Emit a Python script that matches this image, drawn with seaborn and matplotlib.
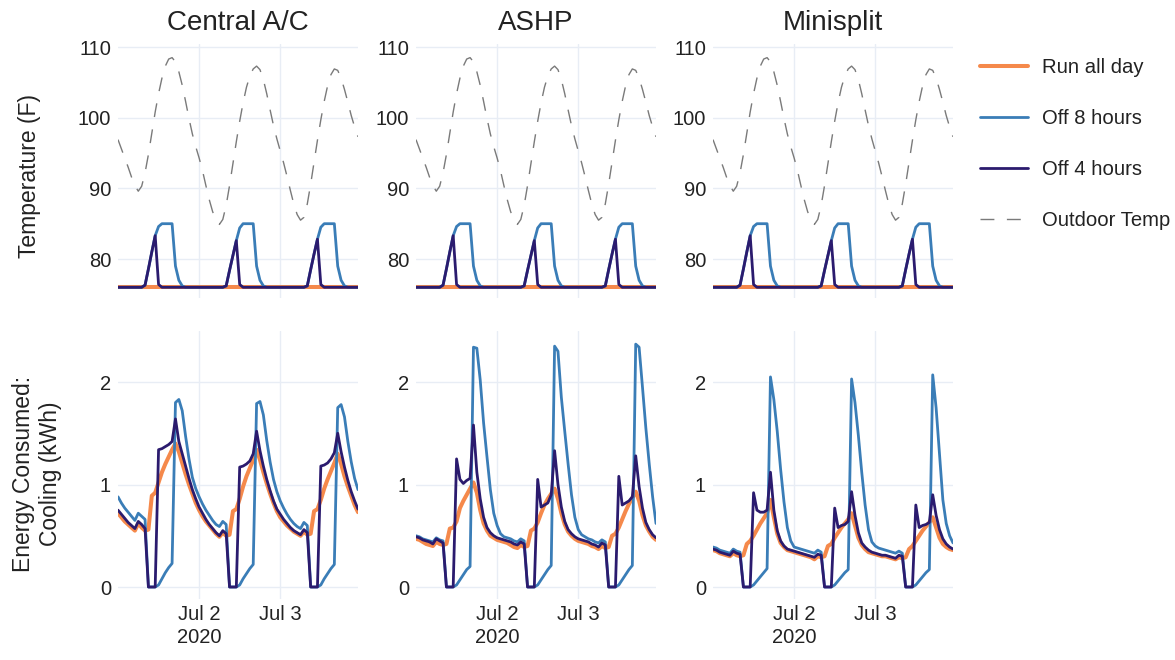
import matplotlib
matplotlib.use("Agg")
import matplotlib.pyplot as plt
import seaborn as sns
import pandas as pd

# hourly timestamps, Jul 1 00:00 .. Jul 3 23:00
hours = pd.date_range("2020-07-01 00:00", periods=72, freq="h")

systems = ["Central A/C", "ASHP", "Minisplit"]
series_names = ["Run all day", "Off 8 hours", "Off 4 hours"]

outdoor_temp = [
    96.9, 95.6, 94.3, 93.0, 91.6, 90.4, 89.6, 90.3, 92.2, 94.8, 97.8, 100.8,
    103.4, 105.6, 107.3, 108.3, 108.5, 107.9, 106.5, 104.6, 102.3, 99.9, 97.7, 95.9,
    94.3, 92.5, 90.4, 88.4, 86.7, 85.5, 84.9, 85.6, 87.6, 90.4, 93.5, 96.6,
    99.5, 102.1, 104.3, 105.9, 106.9, 107.3, 106.8, 105.4, 103.4, 101.1, 98.9, 97.0,
    95.3, 93.6, 91.7, 89.7, 87.8, 86.3, 85.5, 85.9, 87.8, 90.6, 93.7, 96.8,
    99.7, 102.3, 104.5, 106.1, 106.9, 106.7, 105.6, 104.0, 102.2, 100.3, 98.7, 97.3,
]

temp_run_all_day = [
    76.0, 76.0, 76.0, 76.0, 76.0, 76.0, 76.0, 76.0, 76.0, 76.0, 76.0, 76.0,
    76.0, 76.0, 76.0, 76.0, 76.0, 76.0, 76.0, 76.0, 76.0, 76.0, 76.0, 76.0,
    76.0, 76.0, 76.0, 76.0, 76.0, 76.0, 76.0, 76.0, 76.0, 76.0, 76.0, 76.0,
    76.0, 76.0, 76.0, 76.0, 76.0, 76.0, 76.0, 76.0, 76.0, 76.0, 76.0, 76.0,
    76.0, 76.0, 76.0, 76.0, 76.0, 76.0, 76.0, 76.0, 76.0, 76.0, 76.0, 76.0,
    76.0, 76.0, 76.0, 76.0, 76.0, 76.0, 76.0, 76.0, 76.0, 76.0, 76.0, 76.0,
]

temp_off8 = [
    76.0, 76.0, 76.0, 76.0, 76.0, 76.0, 76.0, 76.0, 76.3, 78.6, 81.0, 83.3,
    84.6, 85.0, 85.0, 85.0, 85.0, 79.0, 77.0, 76.2, 76.0, 76.0, 76.0, 76.0,
    76.0, 76.0, 76.0, 76.0, 76.0, 76.0, 76.0, 76.0, 76.2, 78.4, 80.5, 82.6,
    84.4, 85.0, 85.0, 85.0, 85.0, 79.0, 77.0, 76.2, 76.0, 76.0, 76.0, 76.0,
    76.0, 76.0, 76.0, 76.0, 76.0, 76.0, 76.0, 76.0, 76.2, 78.5, 80.7, 82.8,
    84.5, 85.0, 85.0, 85.0, 85.0, 79.0, 77.0, 76.2, 76.0, 76.0, 76.0, 76.0,
]

temp_off4 = [
    76.0, 76.0, 76.0, 76.0, 76.0, 76.0, 76.0, 76.0, 76.3, 78.6, 81.0, 83.3,
    76.4, 76.0, 76.0, 76.0, 76.0, 76.0, 76.0, 76.0, 76.0, 76.0, 76.0, 76.0,
    76.0, 76.0, 76.0, 76.0, 76.0, 76.0, 76.0, 76.0, 76.2, 78.4, 80.5, 82.6,
    76.4, 76.0, 76.0, 76.0, 76.0, 76.0, 76.0, 76.0, 76.0, 76.0, 76.0, 76.0,
    76.0, 76.0, 76.0, 76.0, 76.0, 76.0, 76.0, 76.0, 76.2, 78.5, 80.7, 82.8,
    76.4, 76.0, 76.0, 76.0, 76.0, 76.0, 76.0, 76.0, 76.0, 76.0, 76.0, 76.0,
]

# cooling energy (kWh), Central A/C
ca_run = [
    0.72, 0.68, 0.64, 0.61, 0.58, 0.55, 0.62, 0.58, 0.55, 0.56, 0.89, 0.92,
    1.02, 1.12, 1.20, 1.27, 1.34, 1.40, 1.32, 1.21, 1.10, 1.00, 0.91, 0.82,
    0.75, 0.69, 0.64, 0.60, 0.56, 0.52, 0.49, 0.53, 0.50, 0.51, 0.74, 0.76,
    0.86, 0.98, 1.08, 1.16, 1.24, 1.34, 1.24, 1.12, 1.01, 0.91, 0.82, 0.74,
    0.68, 0.64, 0.60, 0.57, 0.54, 0.52, 0.50, 0.54, 0.51, 0.52, 0.74, 0.76,
    0.85, 0.96, 1.05, 1.13, 1.21, 1.30, 1.20, 1.08, 0.98, 0.89, 0.80, 0.73,
]
ca_off8 = [
    0.88, 0.82, 0.77, 0.73, 0.69, 0.65, 0.72, 0.69, 0.66, 0.00, 0.00, 0.00,
    0.02, 0.08, 0.14, 0.19, 0.23, 1.80, 1.83, 1.72, 1.47, 1.25, 1.07, 0.96,
    0.88, 0.81, 0.75, 0.70, 0.65, 0.61, 0.59, 0.64, 0.61, 0.00, 0.00, 0.00,
    0.02, 0.08, 0.13, 0.18, 0.22, 1.79, 1.81, 1.68, 1.43, 1.22, 1.05, 0.93,
    0.84, 0.77, 0.71, 0.66, 0.62, 0.59, 0.57, 0.63, 0.60, 0.00, 0.00, 0.00,
    0.02, 0.08, 0.13, 0.18, 0.22, 1.75, 1.78, 1.66, 1.42, 1.22, 1.06, 0.95,
]
ca_off4 = [
    0.75, 0.71, 0.67, 0.63, 0.60, 0.57, 0.64, 0.61, 0.57, 0.00, 0.00, 0.00,
    1.34, 1.35, 1.37, 1.39, 1.42, 1.64, 1.42, 1.30, 1.18, 1.06, 0.95, 0.86,
    0.78, 0.72, 0.66, 0.61, 0.57, 0.53, 0.50, 0.55, 0.52, 0.00, 0.00, 0.00,
    1.17, 1.18, 1.20, 1.23, 1.30, 1.52, 1.33, 1.18, 1.05, 0.94, 0.84, 0.76,
    0.71, 0.66, 0.62, 0.58, 0.55, 0.53, 0.51, 0.56, 0.53, 0.00, 0.00, 0.00,
    1.18, 1.19, 1.21, 1.25, 1.31, 1.50, 1.32, 1.17, 1.04, 0.93, 0.84, 0.76,
]

# ASHP
ashp_run = [
    0.47, 0.46, 0.44, 0.42, 0.41, 0.40, 0.44, 0.42, 0.41, 0.42, 0.57, 0.58,
    0.64, 0.77, 0.84, 0.90, 0.96, 1.02, 0.92, 0.75, 0.62, 0.55, 0.50, 0.48,
    0.46, 0.45, 0.44, 0.43, 0.41, 0.39, 0.38, 0.41, 0.39, 0.40, 0.55, 0.57,
    0.63, 0.72, 0.80, 0.86, 0.91, 0.96, 0.86, 0.72, 0.61, 0.54, 0.50, 0.47,
    0.45, 0.44, 0.43, 0.42, 0.40, 0.39, 0.37, 0.40, 0.38, 0.39, 0.50, 0.52,
    0.58, 0.66, 0.74, 0.81, 0.87, 0.93, 0.84, 0.70, 0.60, 0.54, 0.49, 0.46,
]
ashp_off8 = [
    0.50, 0.49, 0.47, 0.46, 0.45, 0.44, 0.48, 0.46, 0.45, 0.00, 0.00, 0.00,
    0.02, 0.07, 0.12, 0.17, 0.20, 2.34, 2.33, 2.02, 1.60, 1.27, 0.95, 0.72,
    0.60, 0.52, 0.49, 0.48, 0.47, 0.45, 0.44, 0.47, 0.45, 0.00, 0.00, 0.00,
    0.02, 0.07, 0.12, 0.17, 0.21, 2.35, 2.30, 1.85, 1.52, 1.20, 0.90, 0.68,
    0.56, 0.51, 0.49, 0.47, 0.46, 0.44, 0.43, 0.46, 0.44, 0.00, 0.00, 0.00,
    0.02, 0.07, 0.12, 0.17, 0.21, 2.37, 2.34, 1.95, 1.55, 1.20, 0.88, 0.62,
]
ashp_off4 = [
    0.49, 0.48, 0.46, 0.45, 0.44, 0.42, 0.47, 0.45, 0.43, 0.00, 0.00, 0.00,
    1.25, 1.05, 1.01, 1.04, 1.06, 1.58, 1.12, 0.86, 0.68, 0.58, 0.53, 0.50,
    0.48, 0.47, 0.46, 0.45, 0.44, 0.42, 0.41, 0.44, 0.42, 0.00, 0.00, 0.00,
    1.05, 0.78, 0.80, 0.82, 0.90, 1.33, 1.00, 0.78, 0.64, 0.56, 0.52, 0.49,
    0.47, 0.46, 0.45, 0.44, 0.42, 0.41, 0.39, 0.43, 0.41, 0.00, 0.00, 0.00,
    1.08, 0.80, 0.82, 0.84, 0.88, 1.28, 0.98, 0.77, 0.63, 0.56, 0.51, 0.48,
]

# Minisplit
mini_run = [
    0.36, 0.35, 0.33, 0.32, 0.31, 0.30, 0.33, 0.31, 0.30, 0.31, 0.42, 0.45,
    0.50, 0.56, 0.62, 0.67, 0.72, 0.85, 0.68, 0.52, 0.43, 0.39, 0.36, 0.35,
    0.34, 0.33, 0.32, 0.31, 0.30, 0.29, 0.27, 0.30, 0.29, 0.30, 0.40, 0.42,
    0.48, 0.53, 0.58, 0.62, 0.66, 0.72, 0.60, 0.48, 0.41, 0.37, 0.34, 0.33,
    0.32, 0.31, 0.30, 0.30, 0.29, 0.28, 0.27, 0.29, 0.28, 0.29, 0.37, 0.40,
    0.45, 0.50, 0.55, 0.59, 0.63, 0.68, 0.58, 0.48, 0.42, 0.39, 0.37, 0.36,
]
mini_off8 = [
    0.39, 0.38, 0.36, 0.35, 0.34, 0.33, 0.37, 0.35, 0.34, 0.00, 0.00, 0.00,
    0.02, 0.06, 0.10, 0.14, 0.18, 2.05, 1.83, 1.52, 1.15, 0.83, 0.58, 0.45,
    0.39, 0.38, 0.37, 0.36, 0.35, 0.34, 0.33, 0.36, 0.34, 0.00, 0.00, 0.00,
    0.02, 0.06, 0.10, 0.14, 0.17, 2.03, 1.80, 1.48, 1.12, 0.80, 0.56, 0.44,
    0.40, 0.38, 0.37, 0.36, 0.35, 0.34, 0.33, 0.35, 0.33, 0.00, 0.00, 0.00,
    0.02, 0.06, 0.10, 0.14, 0.17, 2.07, 1.75, 1.30, 0.85, 0.62, 0.50, 0.43,
]
mini_off4 = [
    0.37, 0.36, 0.34, 0.33, 0.32, 0.31, 0.35, 0.33, 0.32, 0.00, 0.00, 0.00,
    0.92, 0.75, 0.73, 0.73, 0.75, 1.12, 0.75, 0.55, 0.45, 0.40, 0.37, 0.36,
    0.35, 0.34, 0.33, 0.32, 0.31, 0.30, 0.29, 0.32, 0.31, 0.00, 0.00, 0.00,
    0.77, 0.58, 0.60, 0.61, 0.64, 0.93, 0.70, 0.53, 0.43, 0.39, 0.36, 0.34,
    0.33, 0.32, 0.31, 0.31, 0.30, 0.29, 0.28, 0.31, 0.30, 0.00, 0.00, 0.00,
    0.80, 0.58, 0.60, 0.61, 0.63, 0.90, 0.70, 0.56, 0.47, 0.42, 0.39, 0.37,
]

energy = {
    "Central A/C": [ca_run, ca_off8, ca_off4],
    "ASHP": [ashp_run, ashp_off8, ashp_off4],
    "Minisplit": [mini_run, mini_off8, mini_off4],
}
indoor = [temp_run_all_day, temp_off8, temp_off4]

colors = ["#F5894B", "#3A7DB7", "#2B1B6E"]
widths = [2.9, 2.0, 2.0]
dash_color = "#7a7a7a"
grid_color = "#E8EDF5"

sns.set_style("white")
plt.rcParams["font.family"] = ["Liberation Sans", "DejaVu Sans"]
plt.rcParams["text.color"] = "#222222"

W, H = 1175, 660
fig = plt.figure(figsize=(W / 100, H / 100), dpi=100)

lefts = [118, 416, 713]
pw = 240
top_px = (43.5, 297.9)     # y pixel extent for temp ylim (110.5 .. 74.5)
bot_px = (330.8, 599.3)    # y pixel extent for energy ylim (2.5 .. -0.12)


def make_ax(left, ypx):
    return fig.add_axes([left / W, 1 - ypx[1] / H, pw / W, (ypx[1] - ypx[0]) / H])


def style_ax(ax):
    for s in ax.spines.values():
        s.set_visible(False)
    ax.grid(True, color=grid_color, linewidth=1.0)
    ax.set_axisbelow(True)
    ax.tick_params(length=0, labelsize=14.5, colors="#222222")
    ax.tick_params(axis="y", pad=5)
    ax.tick_params(axis="x", pad=4)
    ax.set_xlabel("")
    ax.set_ylabel("")
    ax.set_xlim(hours[0], hours[-1])
    ax.set_xticks([pd.Timestamp("2020-07-02"), pd.Timestamp("2020-07-03")])


top_axes = []
for i, name in enumerate(systems):
    ax = make_ax(lefts[i], top_px)
    for vals, c, lw, lab in zip(indoor, colors, widths, series_names):
        sns.lineplot(x=hours, y=vals, ax=ax, color=c, linewidth=lw, label=lab, legend=False)
    sns.lineplot(x=hours, y=outdoor_temp, ax=ax, color=dash_color, linewidth=1.0,
                 linestyle=(0, (10, 9)), label="Outdoor Temp", legend=False)
    style_ax(ax)
    ax.set_ylim(74.5, 110.5)
    ax.set_yticks([80, 90, 100, 110])
    ax.set_xticklabels(["", ""])
    top_axes.append(ax)

    axb = make_ax(lefts[i], bot_px)
    for vals, c, lw in zip(energy[name], colors, widths):
        sns.lineplot(x=hours, y=vals, ax=axb, color=c, linewidth=lw, legend=False)
    style_ax(axb)
    axb.set_ylim(-0.12, 2.5)
    axb.set_yticks([0, 1, 2])
    axb.set_xticklabels(["Jul 2\n2020", "Jul 3"], linespacing=1.3)

    fig.text((lefts[i] + pw / 2) / W, 1 - 23 / H, name, ha="center", va="center", fontsize=20)

fig.text(30 / W, 1 - 176 / H, "Temperature (F)", rotation=90, ha="center", va="center", fontsize=16.5)
fig.text(37 / W, 1 - 474 / H, "Energy Consumed:\nCooling (kWh)", rotation=90, ha="center",
         va="center", fontsize=16.5, multialignment="center", linespacing=1.25)

handles, labels = top_axes[0].get_legend_handles_labels()
fig.legend(handles, labels, loc="upper left", bbox_to_anchor=(962 / W, 1 - 40 / H),
           frameon=False, fontsize=14.6, handlelength=2.37, handletextpad=0.69, labelspacing=1.57)

fig.savefig("out.png", dpi=100)
